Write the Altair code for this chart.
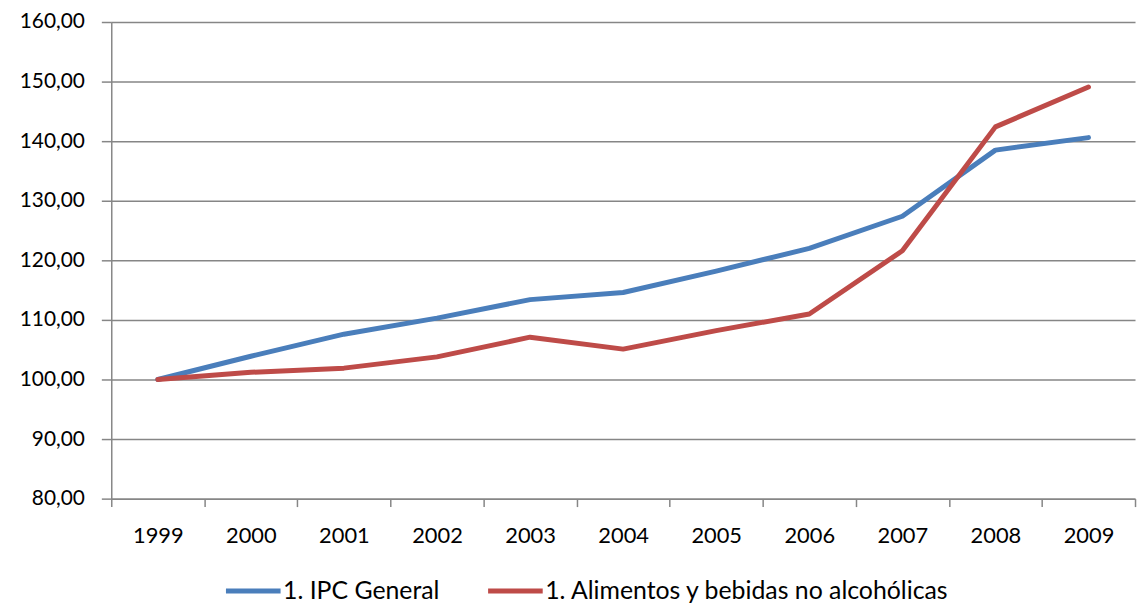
import altair as alt
import pandas as pd

years = ["1999", "2000", "2001", "2002", "2003", "2004", "2005", "2006", "2007", "2008", "2009"]
ipc_general = [100.0, 103.9, 107.6, 110.3, 113.4, 114.6, 118.2, 122.0, 127.4, 138.5, 140.6]
alimentos = [100.0, 101.2, 101.9, 103.8, 107.1, 105.1, 108.2, 111.0, 121.6, 142.4, 149.1]
series_names = ["1. IPC General", "1. Alimentos y bebidas no alcohólicas"]
series_colors = ["#4A7EBB", "#BE4B48"]

rows = []
for name, vals in zip(series_names, [ipc_general, alimentos]):
    for y, v in zip(years, vals):
        rows.append({"year": y, "value": v, "serie": name})
df = pd.DataFrame(rows)

FONT = "Lato"

chart = alt.Chart(df).mark_line(strokeWidth=5, strokeCap="round", strokeJoin="round").encode(
    x=alt.X("year:N", sort=years,
            scale=alt.Scale(paddingInner=0, paddingOuter=0),
            axis=alt.Axis(title=None, labelAngle=0, tickBand="extent", grid=False,
                          domainColor="#868686", domainWidth=1.5, tickColor="#868686",
                          tickWidth=1.5, tickSize=8, labelPadding=19, labelFontSize=22,
                          labelFont=FONT, labelColor="#000000")),
    y=alt.Y("value:Q",
            scale=alt.Scale(domain=[80, 160], nice=False, zero=False),
            axis=alt.Axis(title=None, values=list(range(80, 161, 10)),
                          labelExpr="replace(format(datum.value, '.2f'), '.', ',')",
                          grid=True, gridColor="#868686", gridWidth=1.5,
                          domainColor="#868686", domainWidth=1.5, tickColor="#868686",
                          tickWidth=1.5, tickSize=10, labelPadding=17, labelFontSize=21,
                          labelFont=FONT, labelColor="#000000")),
    color=alt.Color("serie:N",
                    scale=alt.Scale(domain=series_names, range=series_colors),
                    legend=alt.Legend(title=None, orient="none", direction="horizontal",
                                      legendX=113, legendY=543,
                                      symbolType="stroke", symbolSize=3025,
                                      symbolStrokeWidth=5, labelOffset=0,
                                      columnPadding=38, labelFontSize=25,
                                      labelFont=FONT, labelColor="#000000",
                                      labelLimit=700)),
).properties(
    width=1031,
    height=480,
    autosize=alt.AutoSizeParams(type="none"),
    padding={"left": 104, "top": 12, "right": 3, "bottom": 104},
).configure_view(stroke=None)

chart.save("out.html", embed_options={"renderer": "svg", "actions": False})
